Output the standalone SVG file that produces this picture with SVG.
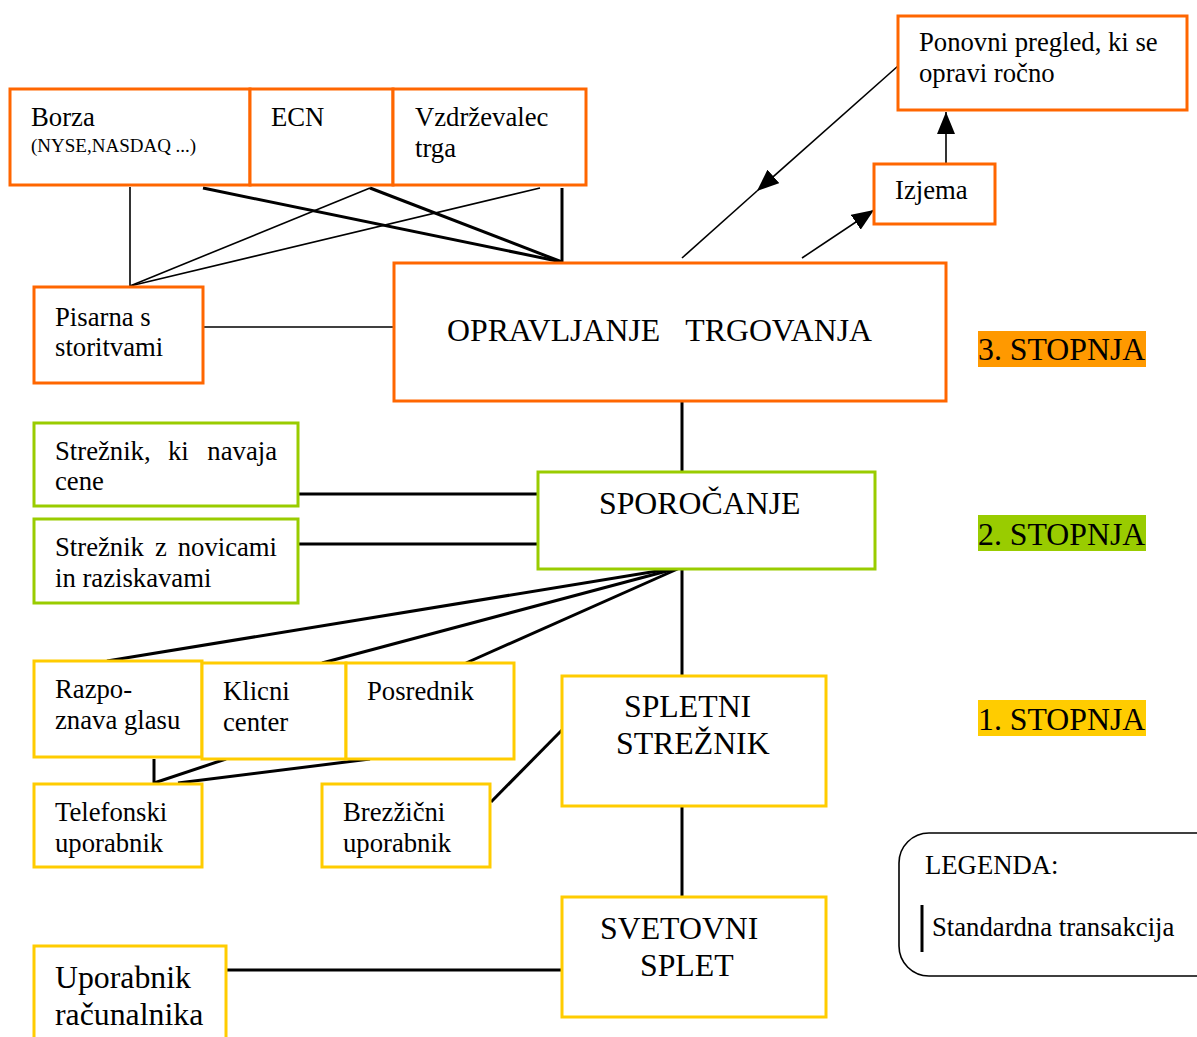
<svg xmlns="http://www.w3.org/2000/svg" width="1197" height="1037" viewBox="0 0 1197 1037">
<style>
text{font-family:"Liberation Serif","Times New Roman",serif;fill:#000}
.t{font-size:26.7px}
.b{font-size:31.8px}
.s{font-size:19px}
.o{fill:#fff;stroke:#FF6600;stroke-width:3}
.g{fill:#fff;stroke:#99CC00;stroke-width:3}
.y{fill:#fff;stroke:#FFCC00;stroke-width:3}
.l1{stroke:#000;stroke-width:1.6;fill:none}
.l2{stroke:#000;stroke-width:3;fill:none}
</style>
<defs>
<marker id="ah" markerUnits="userSpaceOnUse" markerWidth="22" markerHeight="18" refX="22" refY="9" orient="auto"><path d="M0,0 L22,9 L0,18 z" fill="#000"/></marker>
</defs>
<rect width="1197" height="1037" fill="#fff"/>
<g id="connectors">
<line class="l1" x1="130" y1="187" x2="130" y2="286"/>
<line class="l2" x1="203" y1="188" x2="562" y2="262"/>
<line class="l1" x1="370" y1="188" x2="130" y2="286"/>
<line class="l2" x1="370" y1="188" x2="562" y2="262"/>
<line class="l1" x1="540" y1="188" x2="130" y2="286"/>
<line class="l2" x1="562" y1="188" x2="562" y2="262"/>
<line class="l1" x1="203" y1="327" x2="394" y2="327"/>
<line class="l1" x1="946" y1="163" x2="946" y2="112" marker-end="url(#ah)"/>
<line class="l1" x1="802" y1="258" x2="874" y2="210" marker-end="url(#ah)"/>
<line class="l1" x1="898" y1="66" x2="757" y2="191" marker-end="url(#ah)"/>
<line class="l1" x1="757" y1="191" x2="682" y2="258"/>
<line class="l2" x1="682" y1="401" x2="682" y2="472"/>
<line class="l2" x1="298" y1="494" x2="538" y2="494"/>
<line class="l2" x1="298" y1="544" x2="538" y2="544"/>
<line class="l2" x1="682" y1="567" x2="107" y2="661"/>
<line class="l2" x1="682" y1="567" x2="322" y2="663"/>
<line class="l2" x1="682" y1="567" x2="466" y2="663"/>
<line class="l2" x1="682" y1="567" x2="682" y2="676"/>
<line class="l2" x1="154" y1="759" x2="154" y2="783"/>
<line class="l2" x1="154" y1="783" x2="226" y2="759"/>
<line class="l2" x1="178" y1="783" x2="370" y2="759"/>
<line class="l2" x1="491" y1="802" x2="562" y2="730"/>
<line class="l2" x1="682" y1="806" x2="682" y2="902"/>
<line class="l2" x1="226" y1="970" x2="562" y2="970"/>
</g>
<g id="borza"><rect class="o" x="10" y="89" width="240" height="96"/><text class="t" x="31" y="126">Borza</text><text class="s" x="31" y="152">(NYSE,NASDAQ ...)</text></g>
<g id="ecn"><rect class="o" x="250" y="89" width="143" height="96"/><text class="t" x="271" y="126">ECN</text></g>
<g id="vzdrzevalec"><rect class="o" x="393" y="89" width="193" height="96"/><text class="t" x="415" y="126">Vzdrževalec</text><text class="t" x="415" y="157">trga</text></g>
<g id="ponovni"><rect class="o" x="898" y="16" width="289" height="94"/><text class="t" x="919" y="51">Ponovni pregled, ki se</text><text class="t" x="919" y="82">opravi ročno</text></g>
<g id="izjema"><rect class="o" x="874" y="164" width="121" height="60"/><text class="t" x="895" y="199">Izjema</text></g>
<g id="pisarna"><rect class="o" x="34" y="287" width="169" height="96"/><text class="t" x="55" y="326">Pisarna s</text><text class="t" x="55" y="356">storitvami</text></g>
<g id="opravljanje"><rect class="o" x="394" y="263" width="552" height="138"/><text class="b" x="447" y="341">OPRAVLJANJE</text><text class="b" x="872" y="341" text-anchor="end">TRGOVANJA</text></g>
<g id="stopnja3"><rect x="978" y="331" width="168" height="36" fill="#FF9900"/><text class="b" x="978" y="360">3. STOPNJA</text></g>
<g id="streznik-cene"><rect class="g" x="34" y="423" width="264" height="83"/><text class="t" x="55" y="460">Strežnik,</text><text class="t" x="168" y="460">ki</text><text class="t" x="277" y="460" text-anchor="end">navaja</text><text class="t" x="55" y="490">cene</text></g>
<g id="sporocanje"><rect class="g" x="538" y="472" width="337" height="97"/><text class="b" x="599" y="514">SPOROČANJE</text></g>
<g id="streznik-novice"><rect class="g" x="34" y="519" width="264" height="84"/><text class="t" x="55" y="556">Strežnik</text><text class="t" x="161" y="556" text-anchor="middle">z</text><text class="t" x="277" y="556" text-anchor="end">novicami</text><text class="t" x="55" y="587">in raziskavami</text></g>
<g id="stopnja2"><rect x="978" y="515" width="168" height="36" fill="#99CC00"/><text class="b" x="978" y="545">2. STOPNJA</text></g>
<g id="razpoznava"><rect class="y" x="34" y="661" width="168" height="96"/><text class="t" x="55" y="698">Razpo-</text><text class="t" x="55" y="729">znava glasu</text></g>
<g id="klicni"><rect class="y" x="202" y="663" width="144" height="96"/><text class="t" x="223" y="700">Klicni</text><text class="t" x="223" y="731">center</text></g>
<g id="posrednik"><rect class="y" x="346" y="663" width="168" height="96"/><text class="t" x="367" y="700">Posrednik</text></g>
<g id="spletni"><rect class="y" x="562" y="676" width="264" height="130"/><text class="b" x="624" y="717">SPLETNI</text><text class="b" x="616" y="754">STREŽNIK</text></g>
<g id="stopnja1"><rect x="978" y="700" width="168" height="36" fill="#FFCC00"/><text class="b" x="978" y="730">1. STOPNJA</text></g>
<g id="telefonski"><rect class="y" x="34" y="784" width="168" height="83"/><text class="t" x="55" y="821">Telefonski</text><text class="t" x="55" y="852">uporabnik</text></g>
<g id="brezzicni"><rect class="y" x="322" y="784" width="168" height="83"/><text class="t" x="343" y="821">Brezžični</text><text class="t" x="343" y="852">uporabnik</text></g>
<g id="legenda"><rect x="899" y="833" width="330" height="143" rx="30" fill="#fff" stroke="#000" stroke-width="1.6"/><text class="t" x="925" y="874">LEGENDA:</text><line x1="922" y1="905" x2="922" y2="952" stroke="#000" stroke-width="3"/><text class="t" x="932" y="936">Standardna transakcija</text></g>
<g id="svetovni"><rect class="y" x="562" y="897" width="264" height="120"/><text class="b" x="600" y="939">SVETOVNI</text><text class="b" x="640" y="976">SPLET</text></g>
<g id="uporabnik"><rect class="y" x="34" y="946" width="192" height="110"/><text class="b" x="55" y="988">Uporabnik</text><text class="b" x="55" y="1025">računalnika</text></g>
</svg>
